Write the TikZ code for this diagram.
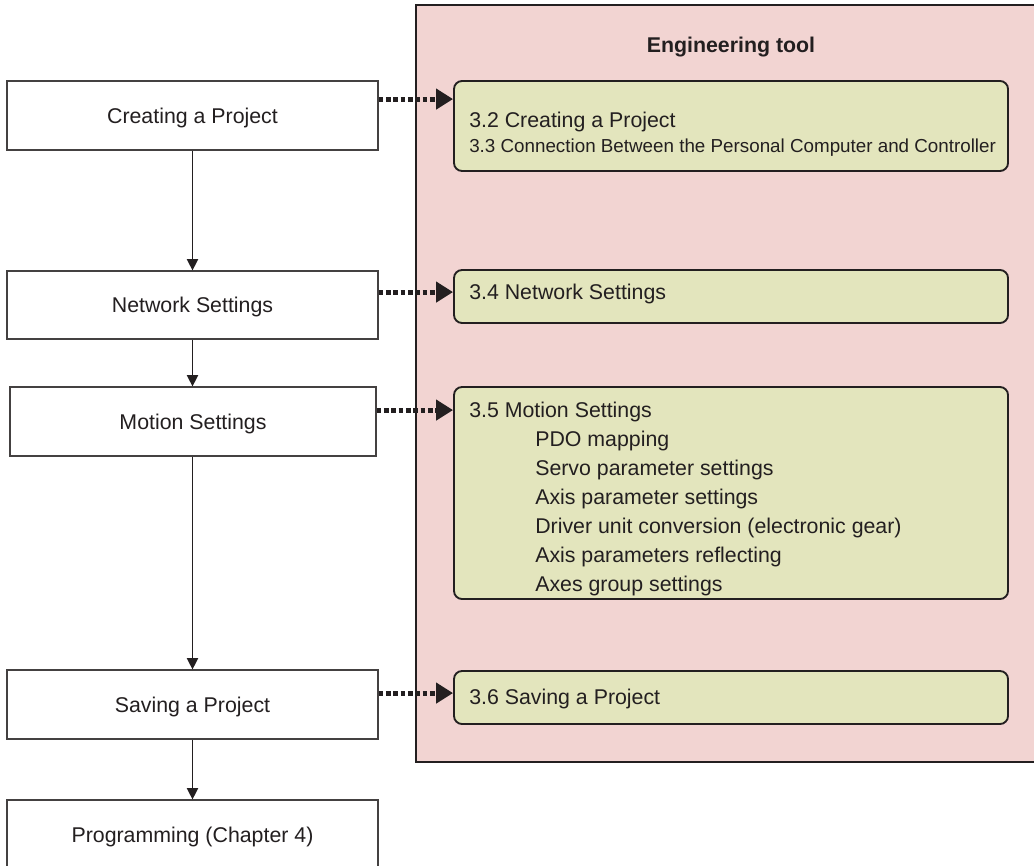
\documentclass[tikz,border=0pt]{standalone}
\usepackage{fontspec}
\setmainfont{Liberation Sans}
\usetikzlibrary{arrows.meta}
\definecolor{ink}{HTML}{231F20}
\definecolor{panelpink}{HTML}{F2D4D2}
\definecolor{boxgreen}{HTML}{E3E5BD}
\begin{document}
\begin{tikzpicture}[x=0.75pt,y=-0.75pt,
  stepbox/.style={draw=ink!85, line width=0.9pt, fill=white, minimum width=278.25pt,
    minimum height=51.75pt, inner sep=0pt, text depth=0pt, font=\fontsize{16}{19}\selectfont, text=ink},
  gbox/.style={draw=ink, line width=1.4pt, fill=boxgreen, rounded corners=6pt,
    minimum width=415.5pt, inner sep=0pt},
  gtext/.style={anchor=base west, inner sep=0pt, text=ink, font=\fontsize{16}{19}\selectfont},
  subtext/.style={anchor=base west, inner sep=0pt, text=ink, font=\fontsize{16}{19}\selectfont},
  flow/.style={-{Triangle[length=8.5pt,width=8.5pt]}, draw=ink, line width=0.9pt},
  dotarrow/.style={-{Triangle[length=12.75pt,width=15pt]}, draw=ink, line width=3.75pt,
    dash pattern=on 3.5pt off 2pt}]
\useasboundingbox (0,0) rectangle (1034,866);
\fill[white] (0,0) rectangle (1034,866);
% engineering tool panel
\fill[panelpink] (416,5) rectangle (1034,762);
\draw[ink, line width=0.8pt] (1034,5) -- (416,5) -- (416,762) -- (1034,762);
\node[font=\bfseries\fontsize{16}{19}\selectfont, text=ink] (title) at (731,47) {Engineering tool};
% left flow
\node[stepbox] (b1) at (192.5,115.5) {Creating a Project};
\node[stepbox, minimum height=51pt] (b2) at (192.5,305) {Network Settings};
\node[stepbox, minimum width=274.5pt] (b3) at (193,421.5) {Motion Settings};
\node[stepbox] (b4) at (192.5,704.5) {Saving a Project};
\node[stepbox] (b5) at (192.5,834.5) {Programming (Chapter 4)};
\draw[flow] (b1.south) -- (b2.north);
\draw[flow] (b2.south) -- (b3.north -| b2.south);
\draw[flow] (b3.south -| b2.south) -- (b4.north);
\draw[flow] (b4.south) -- (b5.north);
% green boxes
\node[gbox, minimum height=67.5pt] (g1) at (731,126) {};
\node[gbox, minimum height=39.75pt] (g2) at (731,296.5) {};
\node[gbox, minimum height=159pt] (g3) at (731,493) {};
\node[gbox, minimum height=39.75pt] (g4) at (731,697.5) {};
% texts
\node[gtext] (t1) at (469,128) {3.2 Creating a Project};
\node[gtext, font=\fontsize{14.1}{17}\selectfont] (t2) at (469,152.5) {3.3 Connection Between the Personal Computer and Controller};
\node[gtext] (t3) at (469,299.5) {3.4 Network Settings};
\node[gtext] (t4) at (469,417) {3.5 Motion Settings};
\node[subtext] (s1) at (535,446) {PDO mapping};
\node[subtext] (s2) at (535,475) {Servo parameter settings};
\node[subtext] (s3) at (535,504) {Axis parameter settings};
\node[subtext] (s4) at (535,533) {Driver unit conversion (electronic gear)};
\node[subtext] (s5) at (535,562) {Axis parameters reflecting};
\node[subtext] (s6) at (535,591) {Axes group settings};
\node[gtext] (t5) at (469,704) {3.6 Saving a Project};
% dotted arrows
\coordinate (a1) at ([yshift=-14.25pt]g1.north west);
\coordinate (a2) at ([yshift=-17.25pt]g2.north west);
\coordinate (a3) at ([yshift=-18pt]g3.north west);
\coordinate (a4) at ([yshift=-17.25pt]g4.north west);
\draw[dotarrow] (a1 -| b1.east) -- (a1);
\draw[dotarrow] (a2 -| b2.east) -- (a2);
\draw[dotarrow] (a3 -| b3.east) -- (a3);
\draw[dotarrow] (a4 -| b4.east) -- (a4);
\end{tikzpicture}
\end{document}
